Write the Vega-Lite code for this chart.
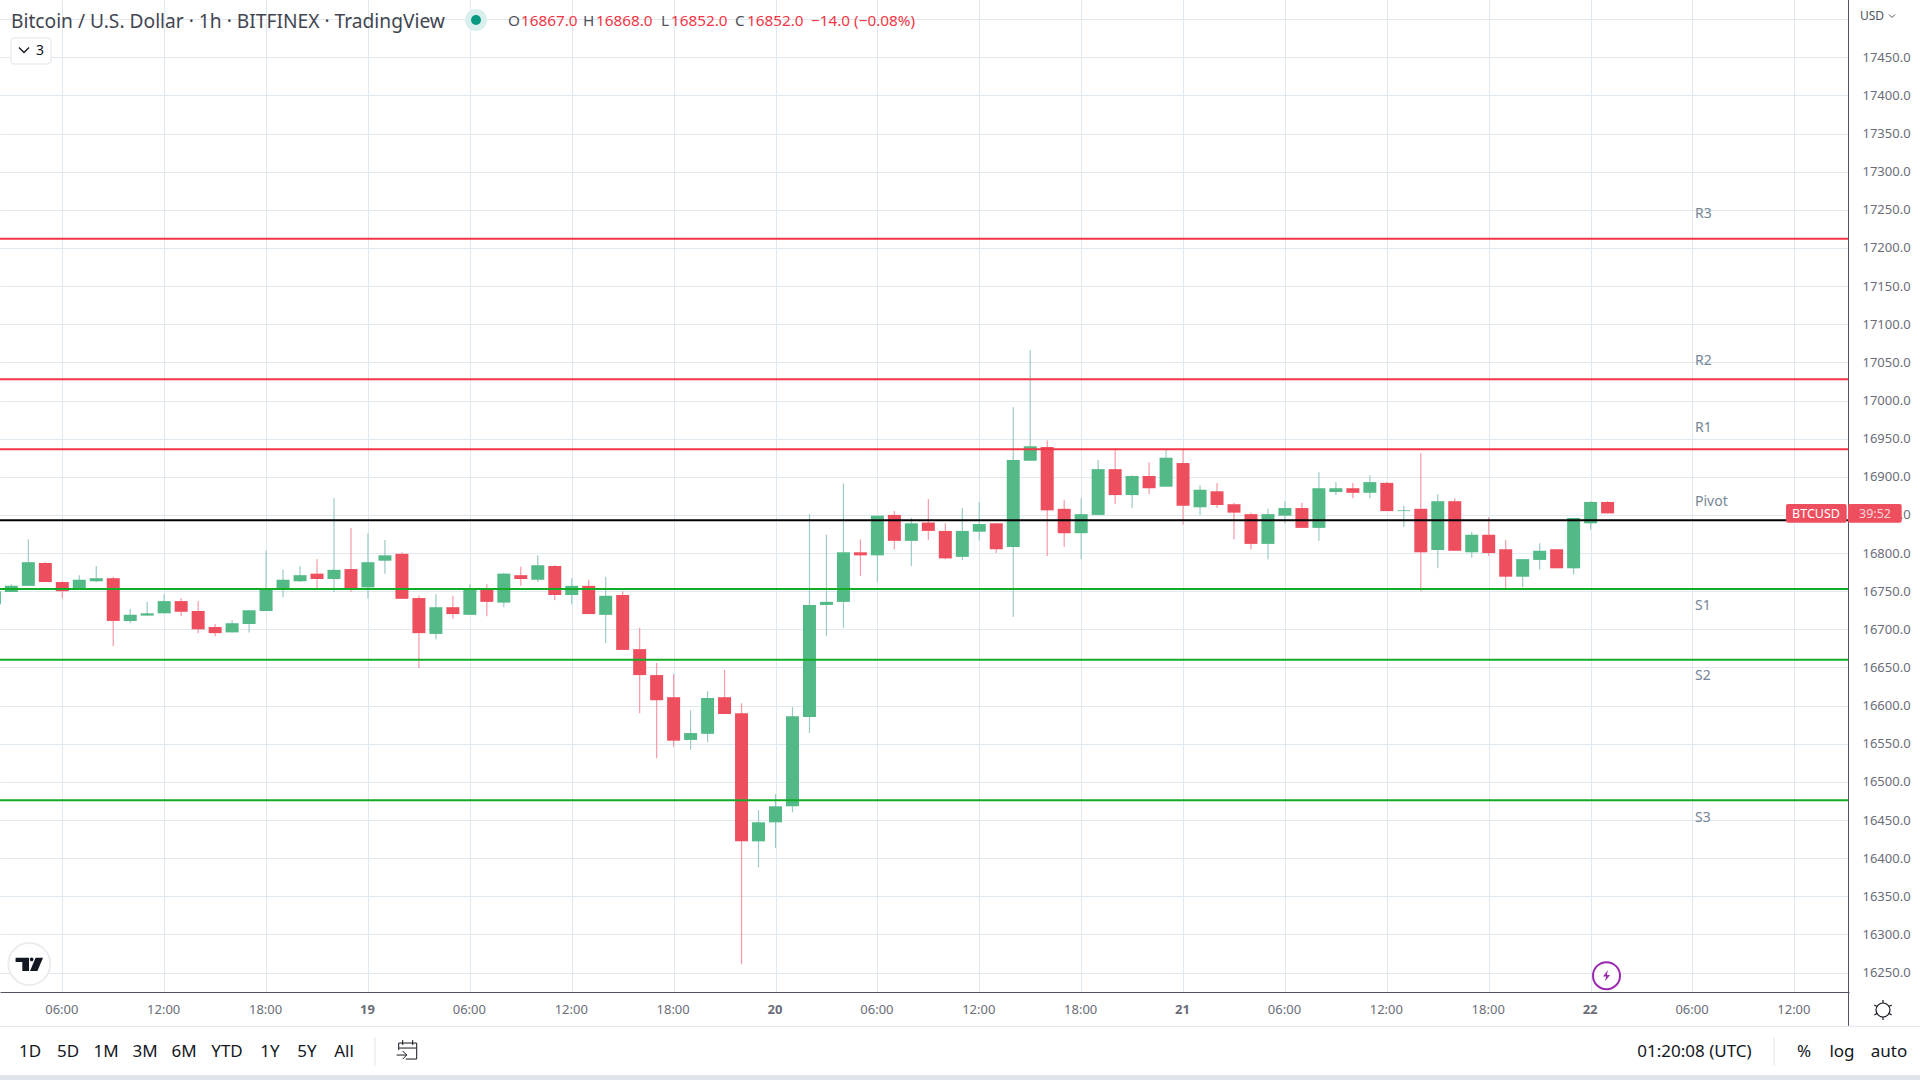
{
"$schema":"https://vega.github.io/schema/vega-lite/v6.json",
"width":1849,"height":992,"autosize":{"type":"none"},"padding":{"left":0,"top":0,"right":71,"bottom":88},"background":"#ffffff",
"config":{"view":{"stroke":null},"font":"Noto Sans"},
"datasets":{
"candles":[
{"t":"2022-12-18T02:00:00Z","o":16733,"h":16750,"l":16733,"c":16750},
{"t":"2022-12-18T03:00:00Z","o":16749,"h":16759,"l":16749,"c":16757},
{"t":"2022-12-18T04:00:00Z","o":16757,"h":16818,"l":16757,"c":16788},
{"t":"2022-12-18T05:00:00Z","o":16787,"h":16788,"l":16762,"c":16762},
{"t":"2022-12-18T06:00:00Z","o":16762,"h":16763,"l":16741,"c":16750},
{"t":"2022-12-18T07:00:00Z","o":16753,"h":16771,"l":16753,"c":16765},
{"t":"2022-12-18T08:00:00Z","o":16763,"h":16783,"l":16762,"c":16767},
{"t":"2022-12-18T09:00:00Z","o":16767,"h":16769,"l":16678,"c":16711},
{"t":"2022-12-18T10:00:00Z","o":16711,"h":16727,"l":16708,"c":16719},
{"t":"2022-12-18T11:00:00Z","o":16718,"h":16736,"l":16717,"c":16721},
{"t":"2022-12-18T12:00:00Z","o":16721,"h":16746,"l":16721,"c":16737},
{"t":"2022-12-18T13:00:00Z","o":16737,"h":16741,"l":16717,"c":16723},
{"t":"2022-12-18T14:00:00Z","o":16724,"h":16737,"l":16695,"c":16700},
{"t":"2022-12-18T15:00:00Z","o":16703,"h":16707,"l":16691,"c":16695},
{"t":"2022-12-18T16:00:00Z","o":16696,"h":16712,"l":16696,"c":16708},
{"t":"2022-12-18T17:00:00Z","o":16707,"h":16725,"l":16696,"c":16725},
{"t":"2022-12-18T18:00:00Z","o":16724,"h":16803,"l":16724,"c":16753},
{"t":"2022-12-18T19:00:00Z","o":16754,"h":16778,"l":16742,"c":16765},
{"t":"2022-12-18T20:00:00Z","o":16763,"h":16783,"l":16762,"c":16771},
{"t":"2022-12-18T21:00:00Z","o":16773,"h":16792,"l":16753,"c":16766},
{"t":"2022-12-18T22:00:00Z","o":16766,"h":16872,"l":16749,"c":16778},
{"t":"2022-12-18T23:00:00Z","o":16779,"h":16833,"l":16749,"c":16754},
{"t":"2022-12-19T00:00:00Z","o":16755,"h":16826,"l":16740,"c":16788},
{"t":"2022-12-19T01:00:00Z","o":16790,"h":16817,"l":16773,"c":16797},
{"t":"2022-12-19T02:00:00Z","o":16799,"h":16801,"l":16740,"c":16740},
{"t":"2022-12-19T03:00:00Z","o":16741,"h":16744,"l":16649,"c":16695},
{"t":"2022-12-19T04:00:00Z","o":16694,"h":16746,"l":16687,"c":16729},
{"t":"2022-12-19T05:00:00Z","o":16729,"h":16744,"l":16714,"c":16720},
{"t":"2022-12-19T06:00:00Z","o":16719,"h":16759,"l":16719,"c":16753},
{"t":"2022-12-19T07:00:00Z","o":16753,"h":16759,"l":16717,"c":16736},
{"t":"2022-12-19T08:00:00Z","o":16735,"h":16774,"l":16729,"c":16773},
{"t":"2022-12-19T09:00:00Z","o":16771,"h":16782,"l":16757,"c":16766},
{"t":"2022-12-19T10:00:00Z","o":16765,"h":16797,"l":16762,"c":16784},
{"t":"2022-12-19T11:00:00Z","o":16783,"h":16784,"l":16738,"c":16745},
{"t":"2022-12-19T12:00:00Z","o":16745,"h":16767,"l":16733,"c":16757},
{"t":"2022-12-19T13:00:00Z","o":16757,"h":16765,"l":16720,"c":16720},
{"t":"2022-12-19T14:00:00Z","o":16719,"h":16769,"l":16682,"c":16744},
{"t":"2022-12-19T15:00:00Z","o":16745,"h":16750,"l":16673,"c":16673},
{"t":"2022-12-19T16:00:00Z","o":16674,"h":16702,"l":16590,"c":16640},
{"t":"2022-12-19T17:00:00Z","o":16640,"h":16656,"l":16531,"c":16607},
{"t":"2022-12-19T18:00:00Z","o":16611,"h":16641,"l":16546,"c":16554},
{"t":"2022-12-19T19:00:00Z","o":16555,"h":16594,"l":16542,"c":16564},
{"t":"2022-12-19T20:00:00Z","o":16563,"h":16619,"l":16552,"c":16610},
{"t":"2022-12-19T21:00:00Z","o":16611,"h":16647,"l":16589,"c":16589},
{"t":"2022-12-19T22:00:00Z","o":16590,"h":16603,"l":16261,"c":16422},
{"t":"2022-12-19T23:00:00Z","o":16422,"h":16463,"l":16388,"c":16447},
{"t":"2022-12-20T00:00:00Z","o":16447,"h":16484,"l":16413,"c":16468},
{"t":"2022-12-20T01:00:00Z","o":16468,"h":16598,"l":16460,"c":16586},
{"t":"2022-12-20T02:00:00Z","o":16585,"h":16851,"l":16564,"c":16732},
{"t":"2022-12-20T03:00:00Z","o":16732,"h":16824,"l":16691,"c":16736},
{"t":"2022-12-20T04:00:00Z","o":16736,"h":16891,"l":16702,"c":16801},
{"t":"2022-12-20T05:00:00Z","o":16801,"h":16818,"l":16770,"c":16797},
{"t":"2022-12-20T06:00:00Z","o":16797,"h":16849,"l":16762,"c":16849},
{"t":"2022-12-20T07:00:00Z","o":16850,"h":16855,"l":16805,"c":16816},
{"t":"2022-12-20T08:00:00Z","o":16816,"h":16846,"l":16783,"c":16839},
{"t":"2022-12-20T09:00:00Z","o":16840,"h":16871,"l":16817,"c":16829},
{"t":"2022-12-20T10:00:00Z","o":16829,"h":16839,"l":16792,"c":16793},
{"t":"2022-12-20T11:00:00Z","o":16795,"h":16859,"l":16791,"c":16829},
{"t":"2022-12-20T12:00:00Z","o":16828,"h":16867,"l":16816,"c":16838},
{"t":"2022-12-20T13:00:00Z","o":16839,"h":16839,"l":16800,"c":16805},
{"t":"2022-12-20T14:00:00Z","o":16808,"h":16991,"l":16716,"c":16922},
{"t":"2022-12-20T15:00:00Z","o":16921,"h":17066,"l":16921,"c":16940},
{"t":"2022-12-20T16:00:00Z","o":16939,"h":16948,"l":16796,"c":16856},
{"t":"2022-12-20T17:00:00Z","o":16858,"h":16870,"l":16808,"c":16826},
{"t":"2022-12-20T18:00:00Z","o":16826,"h":16872,"l":16792,"c":16851},
{"t":"2022-12-20T19:00:00Z","o":16850,"h":16922,"l":16850,"c":16910},
{"t":"2022-12-20T20:00:00Z","o":16910,"h":16935,"l":16864,"c":16876},
{"t":"2022-12-20T21:00:00Z","o":16876,"h":16902,"l":16859,"c":16901},
{"t":"2022-12-20T22:00:00Z","o":16901,"h":16919,"l":16877,"c":16885},
{"t":"2022-12-20T23:00:00Z","o":16887,"h":16935,"l":16887,"c":16925},
{"t":"2022-12-21T00:00:00Z","o":16918,"h":16935,"l":16837,"c":16862},
{"t":"2022-12-21T01:00:00Z","o":16860,"h":16889,"l":16850,"c":16883},
{"t":"2022-12-21T02:00:00Z","o":16881,"h":16892,"l":16859,"c":16863},
{"t":"2022-12-21T03:00:00Z","o":16864,"h":16866,"l":16818,"c":16853},
{"t":"2022-12-21T04:00:00Z","o":16851,"h":16853,"l":16805,"c":16812},
{"t":"2022-12-21T05:00:00Z","o":16812,"h":16858,"l":16792,"c":16851},
{"t":"2022-12-21T06:00:00Z","o":16849,"h":16868,"l":16839,"c":16859},
{"t":"2022-12-21T07:00:00Z","o":16859,"h":16866,"l":16833,"c":16833},
{"t":"2022-12-21T08:00:00Z","o":16833,"h":16906,"l":16816,"c":16885},
{"t":"2022-12-21T09:00:00Z","o":16880,"h":16893,"l":16876,"c":16885},
{"t":"2022-12-21T10:00:00Z","o":16885,"h":16892,"l":16872,"c":16879},
{"t":"2022-12-21T11:00:00Z","o":16879,"h":16902,"l":16872,"c":16893},
{"t":"2022-12-21T12:00:00Z","o":16892,"h":16893,"l":16855,"c":16855},
{"t":"2022-12-21T13:00:00Z","o":16855,"h":16862,"l":16834,"c":16856},
{"t":"2022-12-21T14:00:00Z","o":16858,"h":16931,"l":16750,"c":16801},
{"t":"2022-12-21T15:00:00Z","o":16804,"h":16877,"l":16780,"c":16868},
{"t":"2022-12-21T16:00:00Z","o":16868,"h":16872,"l":16803,"c":16803},
{"t":"2022-12-21T17:00:00Z","o":16801,"h":16828,"l":16794,"c":16824},
{"t":"2022-12-21T18:00:00Z","o":16824,"h":16847,"l":16796,"c":16800},
{"t":"2022-12-21T19:00:00Z","o":16805,"h":16817,"l":16754,"c":16769},
{"t":"2022-12-21T20:00:00Z","o":16769,"h":16792,"l":16755,"c":16792},
{"t":"2022-12-21T21:00:00Z","o":16791,"h":16813,"l":16778,"c":16803},
{"t":"2022-12-21T22:00:00Z","o":16805,"h":16805,"l":16780,"c":16780},
{"t":"2022-12-21T23:00:00Z","o":16780,"h":16846,"l":16772,"c":16846},
{"t":"2022-12-22T00:00:00Z","o":16839,"h":16868,"l":16831,"c":16867},
{"t":"2022-12-22T01:00:00Z","o":16867,"h":16868,"l":16852,"c":16852}
],
"levels":[
{"name":"R3","price":17212,"t":1671689332000,"labelPrice":17245.8,"kind":"r"},
{"name":"R2","price":17028,"t":1671689332000,"labelPrice":17053.1,"kind":"r"},
{"name":"R1","price":16936,"t":1671689332000,"labelPrice":16965.3,"kind":"r"},
{"name":"Pivot","price":16843,"t":1671689332000,"labelPrice":16868.9,"kind":"p"},
{"name":"S1","price":16753,"t":1671689332000,"labelPrice":16731.9,"kind":"s"},
{"name":"S2","price":16660,"t":1671689332000,"labelPrice":16640.1,"kind":"s"},
{"name":"S3","price":16476,"t":1671689332000,"labelPrice":16453.9,"kind":"s"}
]
},
"layer":[
{"data":{"name":"candles"},"mark":{"type":"rule","strokeWidth":1.2},
"encoding":{
"x":{"field":"t","type":"temporal","scale":{"type":"utc","domain":[1671329992000,1671721980000],"padding":0},"title":null,
"axis":{"values":[1671343200000,1671364800000,1671386400000,1671408000000,1671429600000,1671451200000,1671472800000,1671494400000,1671516000000,1671537600000,1671559200000,1671580800000,1671602400000,1671624000000,1671645600000,1671667200000,1671688800000,1671710400000],"tickCount":40,
"labelExpr":"utchours(datum.value)==0 ? utcFormat(datum.value,'%-d') : utcFormat(datum.value,'%H:%M')",
"labelFontWeight":{"condition":{"test":"utchours(datum.value)==0","value":"bold"},"value":"normal"},
"labelFont":"Noto Sans","labelFontSize":13,"labelColor":"#6a6d78","labelPadding":11,"labelOffset":-1,"labelOverlap":false,"labelFlush":false,"ticks":false,"tickSize":0,
"grid":true,"gridColor":"#dfe9ef","gridWidth":1,"domain":true,"domainColor":"#50535e","domainWidth":1}},
"y":{"field":"l","type":"quantitative","scale":{"domain":[16224.5,17525.1],"zero":false,"nice":false,"padding":0},"title":null,
"axis":{"orient":"right","values":[16250,16300,16350,16400,16450,16500,16550,16600,16650,16700,16750,16800,16850,16900,16950,17000,17050,17100,17150,17200,17250,17300,17350,17400,17450,17500],"tickCount":60,
"labelExpr":"datum.value>17450 ? '' : format(datum.value,'.1f')",
"labelFont":"Noto Sans","labelFontSize":13,"labelColor":"#6a6d78","labelPadding":13,"labelAlign":"left","labelOverlap":false,"ticks":false,"tickSize":0,
"grid":true,"gridColor":"#dfe9ef","gridWidth":1,"domain":false}},
"y2":{"field":"h"},
"color":{"condition":{"test":"datum.c>=datum.o","value":"#9ccac6"},"value":"#f69aa6"}}},
{"data":{"name":"candles"},"mark":{"type":"bar","size":13},
"encoding":{"x":{"field":"t","type":"temporal","title":null},"y":{"field":"o","type":"quantitative","title":null},"y2":{"field":"c"},
"color":{"condition":{"test":"datum.c>=datum.o","value":"#53b987"},"value":"#ee4f5f"}}},
{"data":{"name":"levels"},"mark":{"type":"rule","strokeWidth":2},
"encoding":{"y":{"field":"price","type":"quantitative","title":null},
"color":{"field":"kind","type":"nominal","legend":null,"scale":{"domain":["r","p","s"],"range":["#f23645","#000000","#12ab25"]}}}},
{"data":{"name":"levels"},"mark":{"type":"text","align":"left","baseline":"middle","dy":1,"font":"Noto Sans","fontSize":14,"color":"#758696"},
"encoding":{"x":{"field":"t","type":"temporal","title":null},"y":{"field":"labelPrice","type":"quantitative","title":null},"text":{"field":"name"}}},
{"data":{"values":[{"a":1671332324000,"b":1671340804000,"p":17475.3,"p2":17441.2}]},"mark":{"type":"rect","fill":"#ffffff","stroke":"#e0e3eb","cornerRadius":3},
"encoding":{"x":{"field":"a","type":"temporal","title":null},"x2":{"field":"b"},"y":{"field":"p","type":"quantitative","title":null},"y2":{"field":"p2"}}},
{"data":{"values":[{"t":1671430904000,"p":17498.9}]},"mark":{"type":"point","shape":"circle","filled":true,"size":484,"color":"#d9efeb","opacity":1},
"encoding":{"x":{"field":"t","type":"temporal","title":null},"y":{"field":"p","type":"quantitative","title":null}}},
{"data":{"values":[{"t":1671430904000,"p":17498.9}]},"mark":{"type":"point","shape":"circle","filled":true,"size":100,"color":"#089981","opacity":1},
"encoding":{"x":{"field":"t","type":"temporal","title":null},"y":{"field":"p","type":"quantitative","title":null}}},
{"data":{"values":[{"label":"Bitcoin / U.S. Dollar · 1h · BITFINEX · TradingView","t":1671332324000,"p":17497.6}]},"mark":{"type":"text","align":"left","baseline":"middle","dy":1,"font":"Noto Sans","fontSize":19.2,"color":"#434651"},
"encoding":{"x":{"field":"t","type":"temporal","title":null},"y":{"field":"p","type":"quantitative","title":null},"text":{"field":"label"}}},
{"data":{"values":[{"label":"O","t":1671437688000,"p":17497.6},{"label":"H","t":1671453588000,"p":17497.6},{"label":"L","t":1671470124000,"p":17497.6},{"label":"C","t":1671485812000,"p":17497.6}]},"mark":{"type":"text","align":"left","baseline":"middle","font":"Noto Sans","fontSize":15.3,"color":"#50535e"},
"encoding":{"x":{"field":"t","type":"temporal","title":null},"y":{"field":"p","type":"quantitative","title":null},"text":{"field":"label"}}},
{"data":{"values":[{"label":"16867.0","t":1671440444000,"p":17497.6},{"label":"16868.0","t":1671456344000,"p":17497.6},{"label":"16852.0","t":1671472244000,"p":17497.6},{"label":"16852.0","t":1671488356000,"p":17497.6},{"label":"−14.0 (−0.08%)","t":1671501924000,"p":17497.6}]},"mark":{"type":"text","align":"left","baseline":"middle","font":"Noto Sans","fontSize":15.3,"color":"#f23645"},
"encoding":{"x":{"field":"t","type":"temporal","title":null},"y":{"field":"p","type":"quantitative","title":null},"text":{"field":"label"}}},
{"data":{"values":[{"label":"3","t":1671338472000,"p":17459.5}]},"mark":{"type":"text","align":"center","baseline":"middle","dy":1,"font":"Noto Sans","fontSize":14,"color":"#131722"},
"encoding":{"x":{"field":"t","type":"temporal","title":null},"y":{"field":"p","type":"quantitative","title":null},"text":{"field":"label"}}},
{"data":{"values":[{"t":1671335080000,"p":17459.5}]},"mark":{"type":"point","shape":"M-1,-0.5L0,0.5L1,-0.5","filled":false,"size":100,"color":"#131722","strokeWidth":1.3,"opacity":1},
"encoding":{"x":{"field":"t","type":"temporal","title":null},"y":{"field":"p","type":"quantitative","title":null}}},
{"data":{"values":[{"label":"USD","t":1671724312000,"p":17504.1}]},"mark":{"type":"text","align":"left","baseline":"middle","font":"Noto Sans","fontSize":12,"color":"#50535e"},
"encoding":{"x":{"field":"t","type":"temporal","title":null},"y":{"field":"p","type":"quantitative","title":null},"text":{"field":"label"}}},
{"data":{"values":[{"t":1671731096000,"p":17504.1}]},"mark":{"type":"point","shape":"M-1,-0.5L0,0.5L1,-0.5","filled":false,"size":36,"color":"#50535e","strokeWidth":1,"opacity":1},
"encoding":{"x":{"field":"t","type":"temporal","title":null},"y":{"field":"p","type":"quantitative","title":null}}},
{"data":{"values":[{"t":1671721874000,"p":17525.1,"p2":16180}]},"mark":{"type":"rule","color":"#50535e","strokeWidth":1},
"encoding":{"x":{"field":"t","type":"temporal","title":null},"y":{"field":"p","type":"quantitative","title":null},"y2":{"field":"p2"}}},
{"data":{"values":[{"a":1671329992000,"b":1671737032000,"p":16179.5}]},"mark":{"type":"rule","color":"#e0e3eb","strokeWidth":1},
"encoding":{"x":{"field":"a","type":"temporal","title":null},"x2":{"field":"b"},"y":{"field":"p","type":"quantitative","title":null}}},
{"data":{"values":[{"a":1671329992000,"b":1671737032000,"p":16115.7,"p2":16100}]},"mark":{"type":"rect","color":"#e0e3eb"},
"encoding":{"x":{"field":"a","type":"temporal","title":null},"x2":{"field":"b"},"y":{"field":"p","type":"quantitative","title":null},"y2":{"field":"p2"}}},
{"data":{"values":[{"t":1671409492000,"p":16165.5,"p2":16128.8},{"t":1671706080000,"p":16165.5,"p2":16128.8}]},"mark":{"type":"rule","color":"#e0e3eb","strokeWidth":1},
"encoding":{"x":{"field":"t","type":"temporal","title":null},"y":{"field":"p","type":"quantitative","title":null},"y2":{"field":"p2"}}},
{"data":{"values":[{"label":"1D","t":1671336352000,"p":16147.1},{"label":"5D","t":1671344408000,"p":16147.1},{"label":"1M","t":1671352464000,"p":16147.1},{"label":"3M","t":1671360732000,"p":16147.1},{"label":"6M","t":1671369000000,"p":16147.1},{"label":"YTD","t":1671378116000,"p":16147.1},{"label":"1Y","t":1671387232000,"p":16147.1},{"label":"5Y","t":1671395076000,"p":16147.1},{"label":"All","t":1671402920000,"p":16147.1},{"label":"01:20:08 (UTC)","t":1671689226000,"p":16147.1},{"label":"%","t":1671712440000,"p":16147.1},{"label":"log","t":1671720496000,"p":16147.1},{"label":"auto","t":1671730460000,"p":16147.1}]},"mark":{"type":"text","align":"center","baseline":"middle","dy":0.5,"font":"Noto Sans","fontSize":17,"color":"#131722"},
"encoding":{"x":{"field":"t","type":"temporal","title":null},"y":{"field":"p","type":"quantitative","title":null},"text":{"field":"label"}}},
{"data":{"values":[{"t":1671416212000,"p":16148.4}]},"mark":{"type":"point","shape":"M-0.8,0V-0.7H1V0.9H-0.1M-0.8,-0.2H1M-0.4,-1V-0.5M0.6,-1V-0.5M-1,0.5H0M-0.4,0.1L0,0.5L-0.4,0.9","filled":false,"size":400,"color":"#131722","strokeWidth":1,"opacity":1},
"encoding":{"x":{"field":"t","type":"temporal","title":null},"y":{"field":"p","type":"quantitative","title":null}}},
{"data":{"values":[{"t":1671729188000,"p":16200.9}]},"mark":{"type":"point","shape":"M0.7,0A0.7,0.7 0 1,1 -0.7,0A0.7,0.7 0 1,1 0.7,0ZM0,-0.7V-1M0,0.7V1M-0.6,-0.35L-0.87,-0.5M0.6,-0.35L0.87,-0.5M-0.6,0.35L-0.87,0.5M0.6,0.35L0.87,0.5","filled":false,"size":400,"color":"#131722","strokeWidth":1.2,"opacity":1},
"encoding":{"x":{"field":"t","type":"temporal","title":null},"y":{"field":"p","type":"quantitative","title":null}}},
{"data":{"values":[{"t":1671336204000,"p":16261.2}]},"mark":{"type":"point","shape":"circle","filled":true,"size":1764,"fill":"#ffffff","stroke":"#ececf0","strokeWidth":2,"opacity":1},
"encoding":{"x":{"field":"t","type":"temporal","title":null},"y":{"field":"p","type":"quantitative","title":null}}},
{"data":{"values":[{"t":1671336204000,"p":16261.2}]},"mark":{"type":"point","shape":"M-0.98,-0.45H-0.02V0.5H-0.5V-0.14H-0.98ZM0.3,-0.33A0.13,0.13 0 1,1 0.04,-0.33A0.13,0.13 0 1,1 0.3,-0.33ZM0.98,-0.45L0.58,0.5H0.05L0.45,-0.45Z","filled":true,"size":784,"color":"#131722","opacity":1},
"encoding":{"x":{"field":"t","type":"temporal","title":null},"y":{"field":"p","type":"quantitative","title":null}}},
{"data":{"values":[{"t":1671670570000,"p":16245.9}]},"mark":{"type":"point","shape":"circle","filled":true,"size":729,"fill":"#ffffff","stroke":"#9c27b0","strokeWidth":2,"opacity":1},
"encoding":{"x":{"field":"t","type":"temporal","title":null},"y":{"field":"p","type":"quantitative","title":null}}},
{"data":{"values":[{"t":1671670570000,"p":16245.9}]},"mark":{"type":"point","shape":"M0.2,-0.8L-0.5,0.1H-0.05L-0.2,0.8L0.5,-0.1H0.05Z","filled":true,"size":196,"color":"#9c27b0","opacity":1},
"encoding":{"x":{"field":"t","type":"temporal","title":null},"y":{"field":"p","type":"quantitative","title":null}}},
{"data":{"values":[{"a":1671708624000,"b":1671721492000,"p":16864.3,"p2":16839.8},{"a":1671721768000,"b":1671733152000,"p":16864.3,"p2":16839.8}]},"mark":{"type":"rect","color":"#ee4f5f","cornerRadius":2},
"encoding":{"x":{"field":"a","type":"temporal","title":null},"x2":{"field":"b"},"y":{"field":"p","type":"quantitative","title":null},"y2":{"field":"p2"}}},
{"data":{"values":[{"label":"BTCUSD","t":1671714984000,"p":16851.8}]},"mark":{"type":"text","align":"center","baseline":"middle","font":"Noto Sans","fontSize":12.5,"color":"#ffffff"},
"encoding":{"x":{"field":"t","type":"temporal","title":null},"y":{"field":"p","type":"quantitative","title":null},"text":{"field":"label"}}},
{"data":{"values":[{"label":"39:52","t":1671727492000,"p":16851.8}]},"mark":{"type":"text","align":"center","baseline":"middle","font":"Noto Sans","fontSize":12.5,"color":"#fbd5da"},
"encoding":{"x":{"field":"t","type":"temporal","title":null},"y":{"field":"p","type":"quantitative","title":null},"text":{"field":"label"}}}
]
}
